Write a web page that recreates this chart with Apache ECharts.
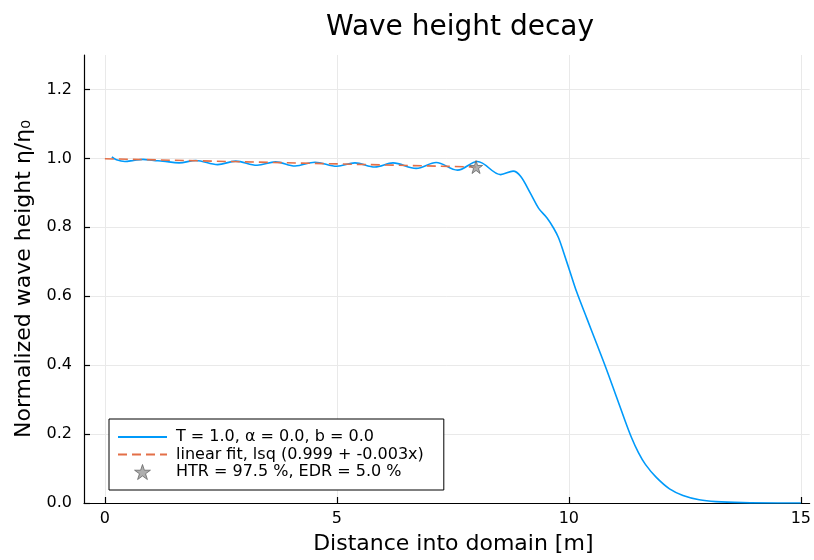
<!DOCTYPE html>
<html>
<head>
<meta charset="utf-8">
<title>Wave height decay</title>
<script src="https://cdn.jsdelivr.net/npm/echarts@6/dist/echarts.min.js"></script>
<style>
  html, body { margin: 0; padding: 0; background: #ffffff; overflow: hidden; }
  #chart { width: 814px; height: 560px; }
</style>
</head>
<body>
<div id="chart"></div>
<script>
// Distance into the domain [m] and normalized wave height along it
const distance = [
  0.15, 0.25, 0.43, 0.62, 0.82, 1.05, 1.25, 1.60, 1.96, 2.43, 2.82, 3.28, 3.68,
  4.10, 4.53, 5.00, 5.39, 5.82, 6.21, 6.71, 7.14, 7.60, 8.03, 8.53, 8.80, 8.96,
  9.17, 9.35, 9.53, 9.67, 9.78, 9.89, 10.03, 10.17, 10.39, 10.60, 10.80, 11.00,
  11.20, 11.35, 11.50, 11.65, 11.88, 12.17, 12.46, 12.81, 13.17, 13.74, 14.50, 15.00
];
const waveHeight = [
  1.004, 0.996, 0.991, 0.994, 0.997, 0.994, 0.992, 0.987, 0.994, 0.982, 0.992, 0.980, 0.990,
  0.978, 0.989, 0.977, 0.987, 0.975, 0.987, 0.971, 0.988, 0.966, 0.991, 0.953, 0.963, 0.948,
  0.899, 0.855, 0.827, 0.798, 0.769, 0.726, 0.669, 0.612, 0.535, 0.462, 0.392, 0.318,
  0.243, 0.190, 0.146, 0.112, 0.075, 0.041, 0.022, 0.0095, 0.004, 0.001, 0.0, 0.0
];

// Least-squares fit over the measured stretch
const fitX = [0, 8];
const fitY = [0.999, 0.975];

// Height transmission point
const htrX = [8.0];
const htrY = [0.975];

const seriesNames = [
  'T = 1.0, α = 0.0, b = 0.0',
  'linear fit, lsq (0.999 + -0.003x)',
  'HTR = 97.5 %, EDR = 5.0 %'
];

const xTicks = [0, 5, 10, 15];
const yTicks = [0, 0.2, 0.4, 0.6, 0.8, 1.0, 1.2];

const font = 'DejaVu Sans';
const starPath = 'path://M50,2 L61.2,36.3 L97.6,36.3 L68.2,57.6 L79.4,92 L50,70.7 L20.6,92 L31.8,57.6 L2.4,36.3 L38.8,36.3 Z';

const zip = (xs, ys) => xs.map((x, i) => [x, ys[i]]);

const chart = echarts.init(document.getElementById('chart'), null, { renderer: 'canvas' });

chart.setOption({
  animation: false,
  backgroundColor: '#ffffff',
  textStyle: { fontFamily: font },
  title: {
    text: 'Wave height decay',
    left: 455,
    top: 9,
    textAlign: 'center',
    textStyle: { fontFamily: font, fontSize: 28, fontWeight: 'normal', color: '#000' }
  },
  grid: { left: 84, right: 0, top: 55, bottom: 54, containLabel: false },
  legend: {
    orient: 'vertical',
    left: 109,
    top: 419,
    padding: [10, 20, 10, 8],
    itemGap: 1.5,
    itemWidth: 49,
    itemHeight: 15,
    borderColor: '#000',
    borderWidth: 1,
    backgroundColor: '#fff',
    textStyle: { fontFamily: font, fontSize: 16, color: '#000', lineHeight: 16, padding: [0, 0, 0, 4] },
    data: [
      { name: seriesNames[0], itemStyle: { opacity: 0 } },
      { name: seriesNames[1], itemStyle: { opacity: 0 } },
      { name: seriesNames[2], itemStyle: { color: '#9a9a9a', borderColor: '#666666', borderWidth: 1 } }
    ]
  },
  xAxis: {
    type: 'value',
    min: -0.45,
    max: 15.19,
    name: 'Distance into domain [m]',
    nameLocation: 'middle',
    nameGap: 30,
    nameTextStyle: { fontFamily: font, fontSize: 22, color: '#000', padding: [0, 0, 0, 13] },
    axisLine: { show: true, onZero: false, lineStyle: { color: '#000', width: 1.2 } },
    axisTick: { show: true, inside: true, length: 6, customValues: xTicks, lineStyle: { color: '#000', width: 1.2 } },
    axisLabel: { customValues: xTicks, margin: 8, fontFamily: font, fontSize: 16, color: '#000' },
    splitLine: { show: true, lineStyle: { color: '#e9e9e9', width: 1 } }
  },
  yAxis: {
    type: 'value',
    min: 0,
    max: 1.3,
    name: 'Normalized wave height η/η₀',
    nameLocation: 'middle',
    nameGap: 45,
    nameTextStyle: { fontFamily: font, fontSize: 22, color: '#000' },
    axisLine: { show: true, onZero: false, lineStyle: { color: '#000', width: 1.2 } },
    axisTick: { show: true, inside: true, length: 6, customValues: yTicks, lineStyle: { color: '#000', width: 1.2 } },
    axisLabel: {
      customValues: yTicks,
      margin: 12,
      fontFamily: font,
      fontSize: 16,
      color: '#000',
      formatter: v => v.toFixed(1)
    },
    splitLine: { show: true, lineStyle: { color: '#e9e9e9', width: 1 } }
  },
  series: [
    {
      name: seriesNames[0],
      type: 'line',
      data: zip(distance, waveHeight),
      smooth: 0.35,
      symbol: 'none',
      lineStyle: { color: '#009AFA', width: 1.6 },
      itemStyle: { color: '#009AFA' },
      z: 2
    },
    {
      name: seriesNames[1],
      type: 'line',
      data: zip(fitX, fitY),
      symbol: 'none',
      lineStyle: { color: '#E36F47', width: 1.6, type: [9, 5] },
      itemStyle: { color: '#E36F47' },
      z: 3
    },
    {
      name: seriesNames[2],
      type: 'scatter',
      data: zip(htrX, htrY),
      symbol: starPath,
      symbolSize: 13,
      itemStyle: { color: '#9a9a9a', borderColor: '#666666', borderWidth: 1 },
      z: 4
    }
  ]
});
</script>
</body>
</html>
